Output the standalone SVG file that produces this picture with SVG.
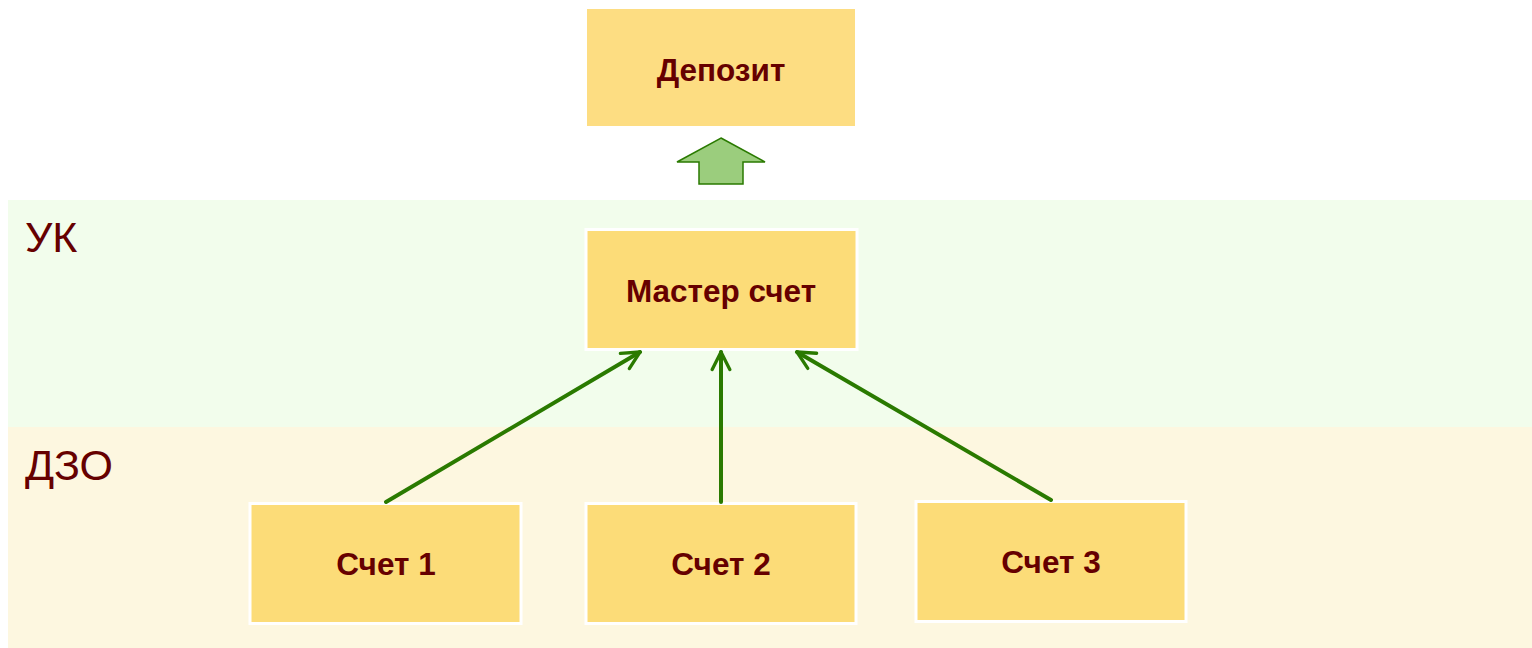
<svg xmlns="http://www.w3.org/2000/svg" width="1532" height="648" viewBox="0 0 1532 648">
<defs>
<style>
.box{fill:#fcdc78;stroke:#ffffff;stroke-width:3}
.lbl{font-family:"Liberation Sans",Arial,sans-serif;font-weight:bold;font-size:31.5px;fill:#660000;text-anchor:middle}
.zone{font-family:"Liberation Sans",Arial,sans-serif;font-size:43px;fill:#660000}
.con{stroke:#2a7a00;stroke-width:4;fill:none;stroke-linecap:round;stroke-linejoin:round}
</style>
<marker id="ah" viewBox="0 0 10 10" refX="9" refY="5" markerWidth="5.5" markerHeight="5.5" markerUnits="strokeWidth" orient="auto">
<path d="M1,1 L9,5 L1,9" fill="none" stroke="#2a7a00" stroke-width="1.5" stroke-linecap="round" stroke-linejoin="round"/>
</marker>
</defs>
<rect x="0" y="0" width="1532" height="648" fill="#ffffff"/>
<g id="zone-uk">
<rect x="8" y="200" width="1524" height="227" fill="#f2fdec"/>
<text class="zone" x="25" y="252">УК</text>
</g>
<g id="zone-dzo">
<rect x="8" y="427" width="1524" height="221" fill="#fdf7e0"/>
<text class="zone" x="25" y="480">ДЗО</text>
</g>
<g id="deposit">
<rect x="587" y="9" width="268" height="117" fill="#fddd82"/>
<text class="lbl" x="721" y="81">Депозит</text>
</g>
<g id="block-arrow">
<path d="M721,138 L765,162 L743,162 L743,184 L699,184 L699,162 L677,162 Z" fill="#9bcd7d" stroke="#2a7a00" stroke-width="1.5" stroke-linejoin="miter"/>
</g>
<g id="master">
<rect class="box" x="586" y="229.5" width="271" height="120" fill="#f8dc78"/>
<text class="lbl" x="721" y="302">Мастер счет</text>
</g>
<g id="acc1">
<rect class="box" x="250" y="503.5" width="271" height="120"/>
<text class="lbl" x="386" y="575">Счет 1</text>
</g>
<g id="acc2">
<rect class="box" x="586" y="503.5" width="270" height="120"/>
<text class="lbl" x="721" y="575">Счет 2</text>
</g>
<g id="acc3">
<rect class="box" x="916" y="501.5" width="270" height="120"/>
<text class="lbl" x="1051" y="573">Счет 3</text>
</g>
<g id="connectors">
<line class="con" x1="386" y1="502" x2="640" y2="352" marker-end="url(#ah)"/>
<line class="con" x1="721" y1="502" x2="721" y2="352" marker-end="url(#ah)"/>
<line class="con" x1="1051" y1="500" x2="797" y2="352" marker-end="url(#ah)"/>
</g>
</svg>
